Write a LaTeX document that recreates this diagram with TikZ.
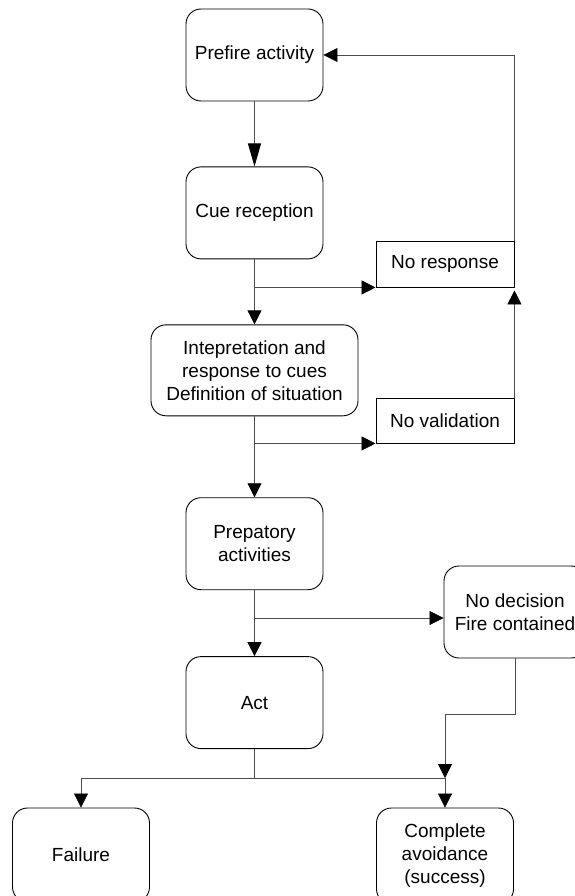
\documentclass[tikz,border=0pt]{standalone}
\usepackage{fontspec}
\setmainfont{Liberation Sans}
\usepackage{tikz}
\usetikzlibrary{arrows.meta,positioning}

\begin{document}
\begin{tikzpicture}[
    x=1pt, y=-1pt,
    node distance=65pt and 53pt,
    font=\fontsize{19}{23}\selectfont,
    box/.style={draw, rounded corners=15pt, line width=0.9pt, minimum width=137pt, minimum height=92pt, align=center},
    side/.style={draw, line width=0.9pt, minimum width=138pt, minimum height=46pt, align=center},
    arr/.style={-{Triangle[length=14pt,width=14pt,black]}, line width=0.8pt, draw=black!70},
    arrlong/.style={-{Triangle[length=23pt,width=13pt,black]}, line width=0.8pt, draw=black!70},
    ln/.style={line width=0.8pt, draw=black!70}
]
\fill[white] (0,0) rectangle (574,896);
\useasboundingbox (0,0) rectangle (574,896);

\node[box] (prefire) at (254.5,55) {Prefire activity};
\node[box, below=of prefire] (cue) {Cue reception};
\node[box, below=of cue, minimum width=207pt, minimum height=91pt] (interp) {Intepretation and\\response to cues\\Definition of situation};
\node[box, below=81pt of interp] (prep) {Prepatory\\activities};
\node[box, below=66pt of prep] (act) {Act};

\node[side] (noresp) at (445,264) {No response};
\node[side, minimum height=45pt] (noval) at (445,420.5) {No validation};
\node[box, minimum width=142pt] (nodec) at (515,612) {No decision\\Fire contained};
\node[box, minimum height=94pt] (fail) at (81,855) {Failure};
\node[box, minimum height=96pt] (compl) at (445,856) {Complete\\avoidance\\(success)};

% main column
\draw[arrlong] (prefire) -- (cue);
\draw[arr] (cue) -- (interp);
\draw[arr] (interp) -- (prep);
\draw[arr] (prep) -- (act);

% side branches
\coordinate (b1) at (cue.south |- noresp.south);
\coordinate (b2) at (interp.south |- noval.south);
\coordinate (b3) at ([yshift=-6pt]nodec.west);
\draw[arr] (b1) -- (noresp.south west);
\draw[arr] (b2) -- (noval.south west);
\draw[arr] (prep.south |- b3) -- (b3);
\draw[arr] (noval.north east) -- ([yshift=-3pt]noresp.south east);
\draw[arr] (noresp.north east) |- (prefire.east);

% outcomes
\coordinate (b4) at ([yshift=-29pt]act.south);
\coordinate (j) at (compl.north |- b4);
\draw[ln] (act.south) -- (b4) -- (j);
\draw[arr] (b4) -| (fail.north);
\draw[arr] (nodec.south) -- ++(0,56) -| (j);
\draw[arr] (j) -- (compl.north);
\end{tikzpicture}
\end{document}
